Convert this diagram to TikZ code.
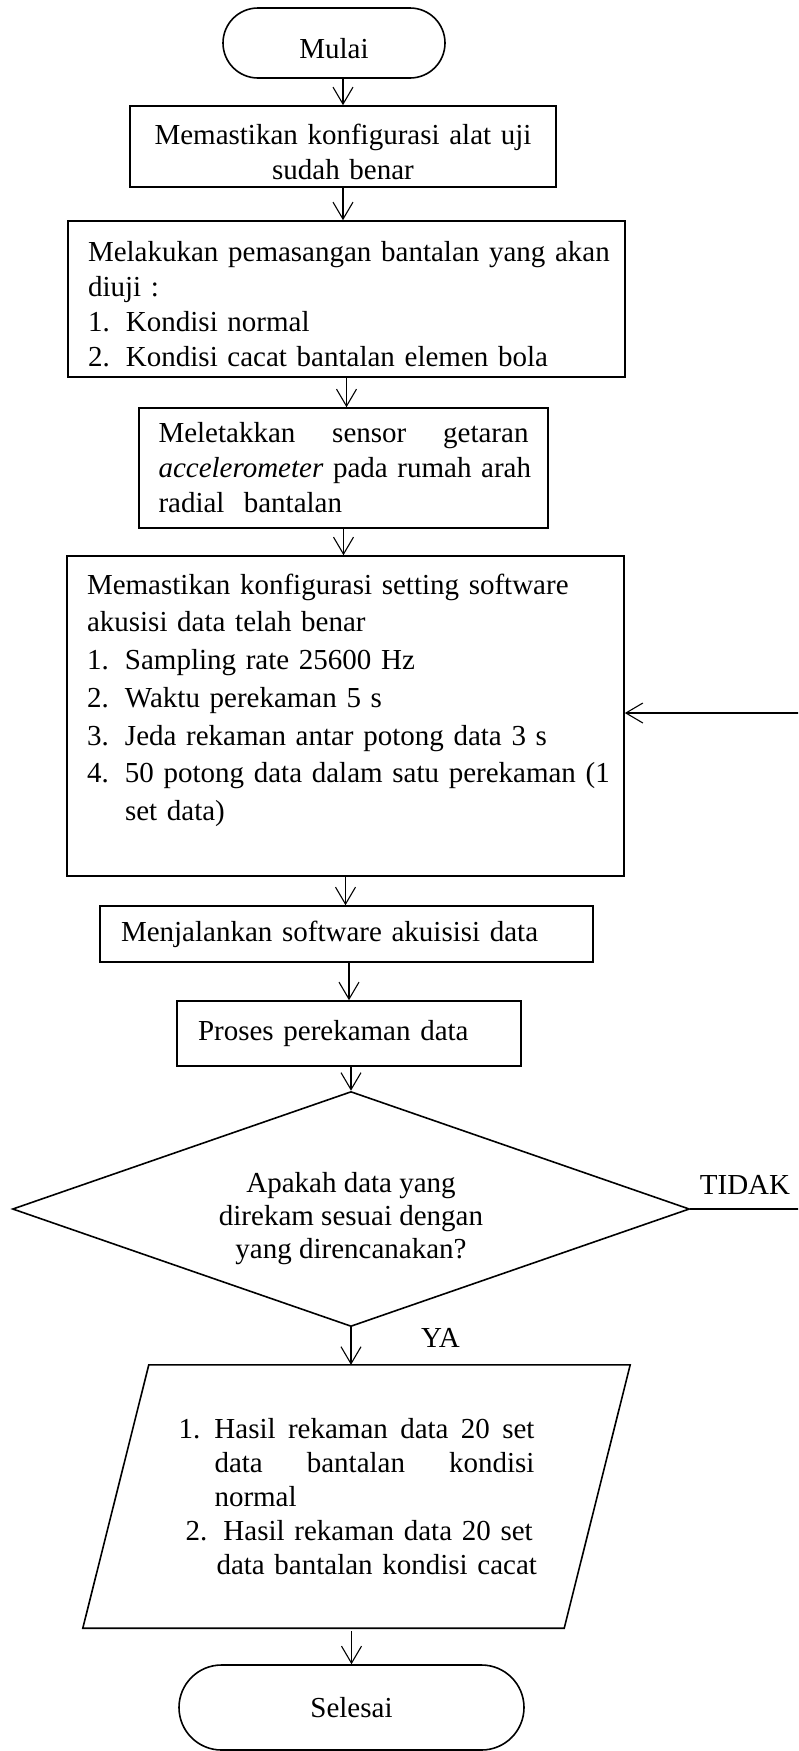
\documentclass[tikz,border=0pt]{standalone}
\usepackage{fontspec}
\setmainfont{Liberation Serif}
\usetikzlibrary{arrows.meta,shapes.geometric}
\begin{document}
\begin{tikzpicture}[x=1pt,y=-1pt,
  base/.style={draw, line width=1.6pt, inner sep=0pt, font=\fontsize{29}{35}\selectfont},
  procbox/.style={base, rectangle},
  lbl/.style={inner sep=0pt, font=\fontsize{29}{35}\selectfont},
  arr/.style={line width=1.1pt, -{Straight Barb[length=17pt,width=20pt,line width=1.1pt]}},
]
\clip (0,0) rectangle (798,1751);

\node[procbox, minimum width=222pt, minimum height=70pt, rounded corners=35pt] (start) at (334,43)
  {\rule{0pt}{32pt}Mulai};

\node[procbox, minimum width=426pt, minimum height=81pt, text width=400pt, align=center] (konf) at (343,146.5)
  {\rule{0pt}{32pt}Memastikan konfigurasi alat uji\\sudah benar};

\node[procbox, minimum width=557pt, minimum height=156pt, text width=517pt, align=left] (pasang) at (346.5,299)
  {\rule{0pt}{31pt}\mbox{Melakukan pemasangan bantalan yang akan}\\diuji :\\
   \makebox[38pt][l]{1.}Kondisi normal\\
   \makebox[38pt][l]{2.}\mbox{Kondisi cacat bantalan elemen bola}};

\node[procbox, minimum width=409pt, minimum height=120pt, text width=370pt, align=left] (sensor) at (343.5,468)
  {\makebox[370pt][l]{Meletakkan\hfill sensor\hfill getaran}\\
   \mbox{\textit{accelerometer} pada rumah arah}\\radial\ \ bantalan};

\node[procbox, minimum width=557pt, minimum height=320pt, text width=517pt, align=left,
      font=\fontsize{29}{37.7}\selectfont] (soft) at (345.5,716)
  {Memastikan konfigurasi setting software\\akusisi data telah benar\\
   \makebox[38pt][l]{1.}Sampling rate 25600 Hz\\
   \makebox[38pt][l]{2.}Waktu perekaman 5 s\\
   \makebox[38pt][l]{3.}\mbox{Jeda rekaman antar potong data 3 s}\\
   \makebox[38pt][l]{4.}\mbox{50 potong data dalam satu perekaman (1}\\
   \hspace*{38pt}set data)\\\mbox{}};

\node[procbox, minimum width=493pt, minimum height=56pt, text width=451pt, inner xsep=21pt, align=left] (run) at (346.5,934)
  {Menjalankan software akuisisi data};

\node[procbox, minimum width=344pt, minimum height=65pt, text width=302pt, inner xsep=21pt, align=left] (rec) at (349,1033.5)
  {Proses perekaman data};

\node[base, diamond, shape aspect=2.88, minimum width=677pt, minimum height=235pt, align=center,
      font=\fontsize{29}{33}\selectfont] (dec) at (351,1209)
  {\rule{0pt}{40pt}Apakah data yang\\direkam sesuai dengan\\yang direncanakan?};

\node[lbl] (tidak) at (745,1185) {TIDAK};
\node[lbl] (ya) at (440.5,1338) {YA};

\node[rectangle, inner sep=0pt, minimum width=481pt, minimum height=263pt, text width=356pt, align=left,
      font=\fontsize{29}{34}\selectfont] (out) at (356.5,1496.5)
  {\makebox[36pt][l]{1.}\makebox[320pt][l]{Hasil\hfill rekaman\hfill data\hfill 20\hfill set}\\
   \hspace*{36pt}\makebox[320pt][l]{data\hfill bantalan\hfill kondisi}\\
   \hspace*{36pt}normal\\
   \hspace*{7pt}\makebox[38pt][l]{2.}\mbox{Hasil rekaman data 20 set}\\
   \hspace*{38pt}\mbox{data bantalan kondisi cacat}};
\draw[line width=1.6pt, line join=miter]
  ([xshift=33pt]out.north west) -- ([xshift=33pt]out.north east)
  -- ([xshift=-33pt]out.south east) -- ([xshift=-33pt]out.south west) -- cycle;

\node[procbox, minimum width=345pt, minimum height=85pt, rounded corners=42.5pt] (end) at (351.5,1707.5) {Selesai};

\coordinate (loopR) at (815,1209);
\coordinate (loopT) at (815,713);

\draw[arr] (start.south -| konf.north) -- (konf.north);
\draw[arr] (konf.south) -- (konf.south |- pasang.north);
\draw[arr] (pasang.south) -- (pasang.south |- sensor.north);
\draw[arr] (sensor.south) -- (sensor.south |- soft.north);
\draw[arr] (soft.south) -- (soft.south |- run.north);
\draw[arr] (run.south -| rec.north) -- (rec.north);
\draw[arr] (rec.south -| dec.north) -- (dec.north);
\draw[arr] (dec.south) -- (dec.south |- out.north);
\draw[arr] ([yshift=-3pt]out.south -| end.north) -- (end.north);
\draw[arr] (dec.east) -- (loopR) -- (loopT) -- (soft.east |- loopT);
\end{tikzpicture}
\end{document}
